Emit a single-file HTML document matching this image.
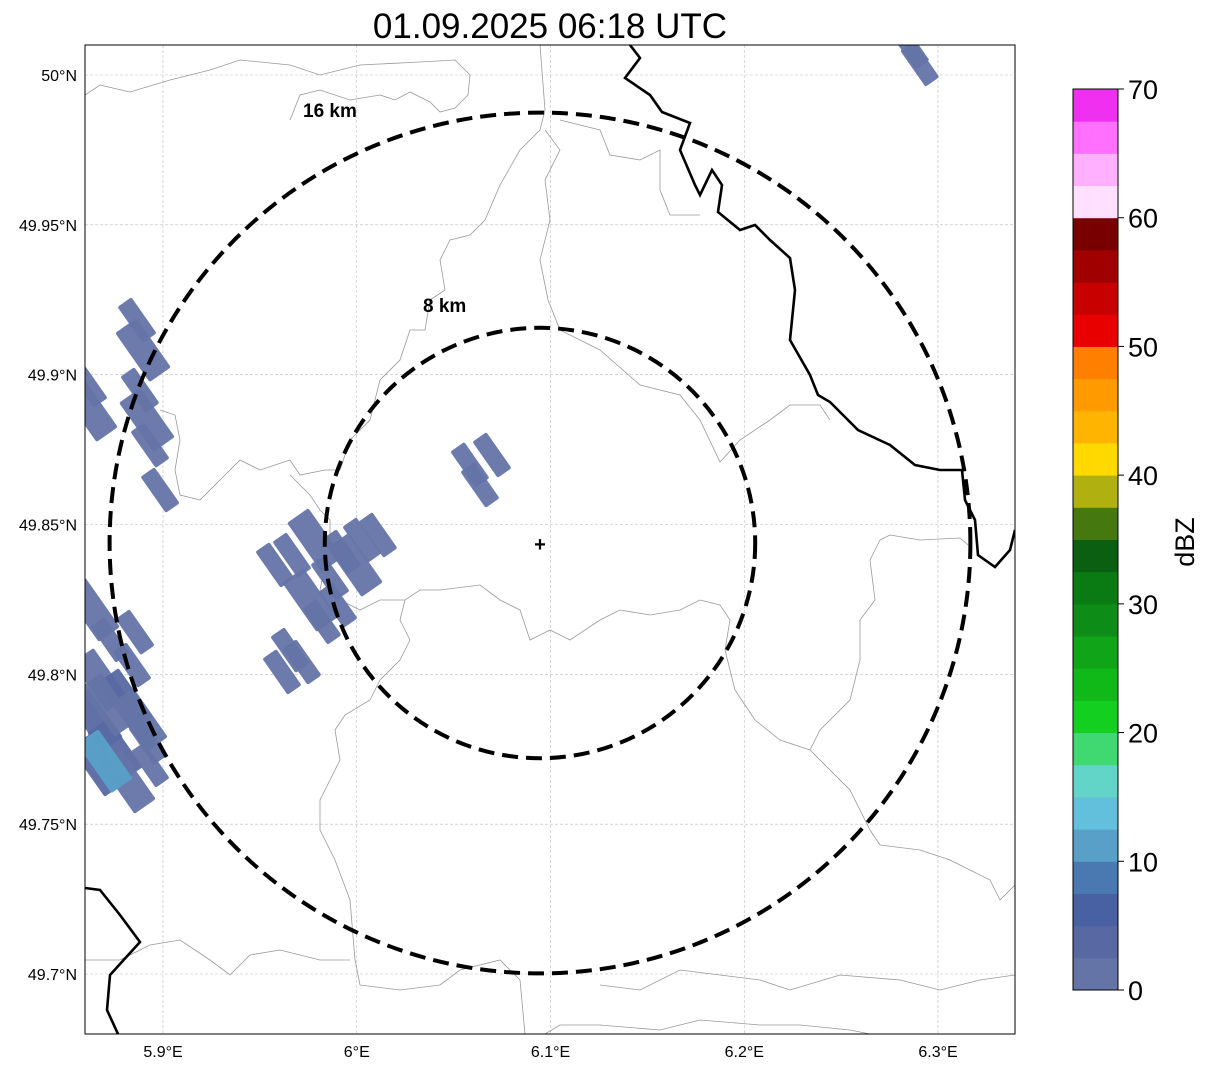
<!DOCTYPE html>
<html><head><meta charset="utf-8"><style>
body{margin:0;background:#fff;font-family:"Liberation Sans",sans-serif}
svg text{font-family:"Liberation Sans",sans-serif}
</style></head><body>
<svg id="c" width="1207" height="1069" xmlns="http://www.w3.org/2000/svg">
<text x="550" y="38" font-size="35" text-anchor="middle">01.09.2025 06:18 UTC</text>
<defs><clipPath id="mc"><rect x="85" y="45" width="930" height="989"/></clipPath></defs>
<g id="grid"></g>
<g clip-path="url(#mc)">
<g id="borders" fill="none" stroke="#999" stroke-width="0.8">
<polyline points="85,95 100,85 130,92 170,80 210,70 240,60 290,65 320,75 360,65 420,62 455,60 470,75 468,95 455,108 440,112 430,102 410,92 395,100 380,95 350,100 320,90 300,95 290,120"/>
<polyline points="540,45 545,110 540,130 520,150 500,185 485,220 470,235 450,240 440,260 445,290 430,300 425,330 410,330 400,360 380,380 370,420 350,440 340,470 325,470 300,475 290,460 260,470 240,460 220,480 200,500 180,495 175,470 180,440 175,415 160,410"/>
<polyline points="545,130 560,150 545,180 550,220 540,260 548,300 560,330 600,350 640,385 680,395 700,420 720,462 740,440 770,420 790,405 820,405 830,420"/>
<polyline points="560,120 600,130 610,155 640,160 660,150 660,190 670,215 700,215"/>
<polyline points="290,475 310,495 320,510 330,520 330,540 320,590 340,600 360,610 380,600 405,600 420,590 440,590 480,585 500,600 520,610 530,640 550,630 570,640 600,620 620,610 650,615 680,610 700,600 720,605 730,620 725,650 735,690 755,720 780,740 810,750 830,770 850,790 870,830 880,845 920,850 950,860 990,880 1000,900 1015,885"/>
<polyline points="880,540 890,535 920,540 960,538 968,545"/>
<polyline points="880,540 870,560 875,600 860,620 860,660 850,700 820,730 810,750"/>
<polyline points="405,600 400,620 410,640 400,660 380,680 370,700 345,715 335,730 340,760 330,780 320,800 320,830 335,860 350,900 355,960 360,985 400,990 440,985 460,970 500,960 520,980 525,1034"/>
<polyline points="85,960 120,960 150,945 180,940 210,960 230,975 250,955 280,950 320,960 350,960"/>
<polyline points="545,1034 560,1025 600,1025 660,1030 700,1020 760,1025 800,1025 850,1030 870,1034"/>
<polyline points="600,985 640,990 680,970 720,975 760,980 790,990 840,975 900,980 940,990 980,980 1015,975"/>
</g>
<g id="rivers" fill="none" stroke="#000" stroke-width="2.6">
<polyline points="630,45 640,58 625,78 650,95 662,112 690,123 680,150 695,185 700,195 712,170 722,185 718,212 740,230 755,225 770,240 790,258 795,290 790,340 810,375 818,395 830,402 858,430 890,445 915,465 940,470 962,470 965,500 975,520 978,555 995,567 1010,550 1015,530"/>
<polyline points="85,888 100,890 120,915 140,942 110,975 107,1010 118,1034"/>
</g>
<g id="cells"></g>
</g>
<g id="rings" fill="none" stroke="#000" stroke-width="4" stroke-dasharray="16,8"></g>
<text x="303" y="117" font-size="19" font-weight="bold">16 km</text>
<text x="423" y="312" font-size="19" font-weight="bold">8 km</text>
<text x="540" y="551" font-size="20" font-weight="bold" text-anchor="middle">+</text>
<rect x="85" y="45" width="930" height="989" fill="none" stroke="#000" stroke-width="1"/>
<g id="axes"></g>
<g id="cbar"></g>
<text transform="translate(1194,542) rotate(-90)" font-size="27" text-anchor="middle">dBZ</text>
</svg>
<script>
const latTicks=[50,49.95,49.9,49.85,49.8,49.75,49.7];
const lonTicks=[5.9,6.0,6.1,6.2,6.3];
const lonLabels=["5.9°E","6°E","6.1°E","6.2°E","6.3°E"];
const cellLon=[5.8866,5.8897,5.8881,5.8917,5.8933,5.8985,5.8613,5.8623,6.0584,6.0698,6.0636,5.9578,5.9666,5.9784,5.9924,6.0027,6.0109,5.9991,5.9862,5.9759,5.9820,5.9903,5.9655,5.9614,5.9717,5.8856,5.8634,5.8727,5.8675,5.8804,5.8840,5.8881,5.8752,5.8819,5.8665,5.8923,5.8649,5.8933,5.8716,6.2855,6.2906,5.8700];
const cellLat=[49.9182,49.9082,49.8949,49.8849,49.8765,49.8615,49.8966,49.8882,49.8699,49.8732,49.8632,49.8365,49.8398,49.8448,49.8408,49.8448,49.8465,49.8365,49.8322,49.8248,49.8175,49.8231,49.8081,49.8008,49.8041,49.8141,49.8215,49.8115,49.7981,49.7914,49.8031,49.7848,49.7748,49.7641,49.7698,49.7774,49.7848,49.7698,49.7898,50.0093,50.0037,49.7710];
const cellDbz=[1,2,1,2,1,1,1,2,1,1,1,1,1,2,1,1,1,2,1,2,1,1,1,1,1,1,2,1,2,3,1,2,3,2,4,1,3,1,2,1,1,10];
const cbLevels=[0,2.5,5,7.5,10,12.5,15,17.5,20,22.5,25,27.5,30,32.5,35,37.5,40,42.5,45,47.5,50,52.5,55,57.5,60,62.5,65,67.5];
const cbColors=["#6474a6","#5868a2","#4761a3","#4a78b0","#58a0c8","#63c0dd","#62d5c8","#40d870","#12cf20","#10b818","#10a418","#0e8c18","#0a7a12","#0a6010","#467810","#b0b010","#ffd900","#ffb400","#ff9a00","#ff7f00","#e80000","#c80000","#a00000","#780000","#ffe0ff","#ffb0ff","#ff70ff","#f030f0"];
const cbTicks=[0,10,20,30,40,50,60,70];
const ringKm=[8,16];
const NS="http://www.w3.org/2000/svg";
const X=lon=>163+(lon-5.9)*1937.5;
const Y=lat=>75+(50-lat)*2996.7;
const CB=v=>990-v*(901/70);
function mk(p,t,a){const e=document.createElementNS(NS,t);for(const k in a)e.setAttribute(k,a[k]);p.appendChild(e);return e;}
const grid=document.getElementById('grid'),axes=document.getElementById('axes');
latTicks.forEach(v=>{const l=mk(grid,'line',{x1:85,x2:1015,y1:Y(v),y2:Y(v),stroke:'#bbb','stroke-width':0.6,'stroke-dasharray':'3,2'});


const t=mk(axes,'text',{x:77,y:Y(v)+6,'font-size':16,'text-anchor':'end'});t.textContent=v+'°N';

});
lonTicks.forEach((v,i)=>{const l=mk(grid,'line',{x1:X(v),x2:X(v),y1:45,y2:1034,stroke:'#bbb','stroke-width':0.6,'stroke-dasharray':'3,2'});


const t=mk(axes,'text',{x:X(v),y:1057,'font-size':16,'text-anchor':'middle'});t.textContent=lonLabels[i];

});
function colorOf(v){let c=cbColors[0];cbLevels.forEach((l,i)=>{if(v>=l)c=cbColors[i];});return c;}
const cells=document.getElementById('cells');
cellLon.forEach((lo,i)=>{const x=X(lo),y=Y(cellLat[i]);const w=cellDbz[i]>=2?26:17,h=cellDbz[i]>=2?60:44;
const r=mk(cells,'rect',{x:x-h/2,y:y-w/2,width:h,height:w,rx:2,fill:colorOf(cellDbz[i]),opacity:0.95,transform:`rotate(55 ${x} ${y})`});

});
const rings=document.getElementById('rings');
ringKm.forEach(k=>{const c=mk(rings,'circle',{cx:540,cy:543,r:k*26.9});

});
const cb=document.getElementById('cbar');
cbLevels.forEach((l,i)=>{const r=mk(cb,'rect',{x:1073,y:CB(l+2.5),width:45,height:CB(l)-CB(l+2.5)+0.5,fill:cbColors[i]});

});
mk(cb,'rect',{x:1073,y:89,width:45,height:901,fill:'none',stroke:'#000','stroke-width':1});
cbTicks.forEach(v=>{mk(cb,'line',{x1:1118,x2:1124,y1:CB(v),y2:CB(v),stroke:'#000'});
const t=mk(cb,'text',{x:1128,y:CB(v)+10,'font-size':27});t.textContent=v;

});
</script>
</body></html>
